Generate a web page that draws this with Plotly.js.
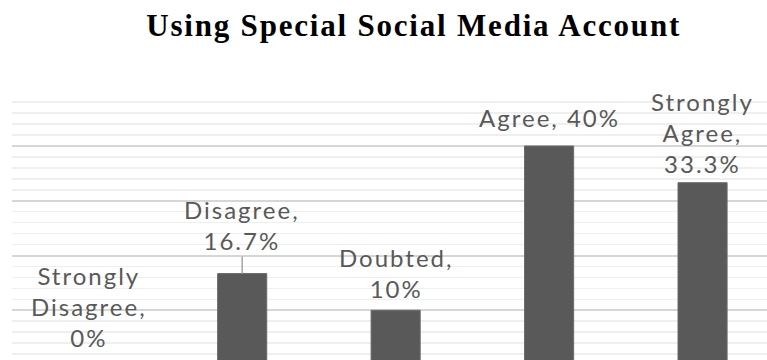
<!DOCTYPE html>
<html>
<head>
<meta charset="utf-8">
<script src="https://cdn.plot.ly/plotly-3.0.1.min.js"></script>
<style>
html,body{margin:0;padding:0;background:#fff;overflow:hidden;}
#wrap{width:767px;height:360px;overflow:hidden;}
#chart{width:767px;height:365px;}
#chart .annotation-text{letter-spacing:2px;}
#chart .gtitle{letter-spacing:1.8px;}
</style>
</head>
<body>
<div id="wrap"><div id="chart"></div></div>
<script>
const categories = ["Strongly Disagree", "Disagree", "Doubted", "Agree", "Strongly Agree"];
const values = [0, 16.7, 10, 40, 33.3];
const labelNames = ["Strongly<br>Disagree,", "Disagree,", "Doubted,", "Agree,", "Strongly<br>Agree,"];
const labelBreak = ["<br>", "<br>", "<br>", " ", "<br>"];
const chartTitle = "Using Special Social Media Account";

// layout-only tweaks (label offsets in px above the bar top)
const labelShift = [11, 17, 5, 12, 3];

const annotations = categories.map((c, i) => ({
  x: c, y: values[i], xref: "x", yref: "y",
  text: labelNames[i] + labelBreak[i] + values[i] + "%",
  showarrow: i === 1,
  arrowhead: 0, arrowwidth: 1.5, arrowcolor: "#a6a6a6",
  ax: 0, ay: -labelShift[i], standoff: 0,
  yanchor: "bottom", xanchor: "center",
  yshift: i === 1 ? 0 : labelShift[i],
  font: {family: "Lato, 'Open Sans', sans-serif", size: 24, color: "#595959"},
  align: "center"
}));

const trace = {
  type: "bar",
  x: categories,
  y: values,
  marker: {color: "#595959", line: {color: "#6a6a6a", width: 1}},
  hoverinfo: "skip"
};

const layout = {
  width: 767, height: 365,
  margin: {l: 12, r: 0, t: 91, b: 0, pad: 0},
  paper_bgcolor: "#ffffff", plot_bgcolor: "#ffffff",
  showlegend: false,
  bargap: 0.68,
  title: {
    text: "<b>" + chartTitle + "</b>",
    font: {family: "'Liberation Serif', 'Times New Roman', serif", size: 31, color: "#000000"},
    x: 0.532, xanchor: "center", xref: "paper",
    y: 0.931, yanchor: "middle", yref: "container"
  },
  xaxis: {
    type: "category", range: [-0.5, 4.42],
    showticklabels: false, showgrid: false, zeroline: false, showline: false, ticks: ""
  },
  yaxis: {
    range: [0, 50.05], dtick: 10, tick0: 0,
    showticklabels: false, ticks: "", zeroline: false, showline: false,
    showgrid: true, gridcolor: "#d6d6d6", gridwidth: 2,
    minor: {dtick: 2, tick0: 0, showgrid: true, gridcolor: "#efefef", gridwidth: 1.5}
  },
  annotations: annotations
};

Plotly.newPlot("chart", [trace], layout, {displayModeBar: false, staticPlot: true});
</script>
</body>
</html>
